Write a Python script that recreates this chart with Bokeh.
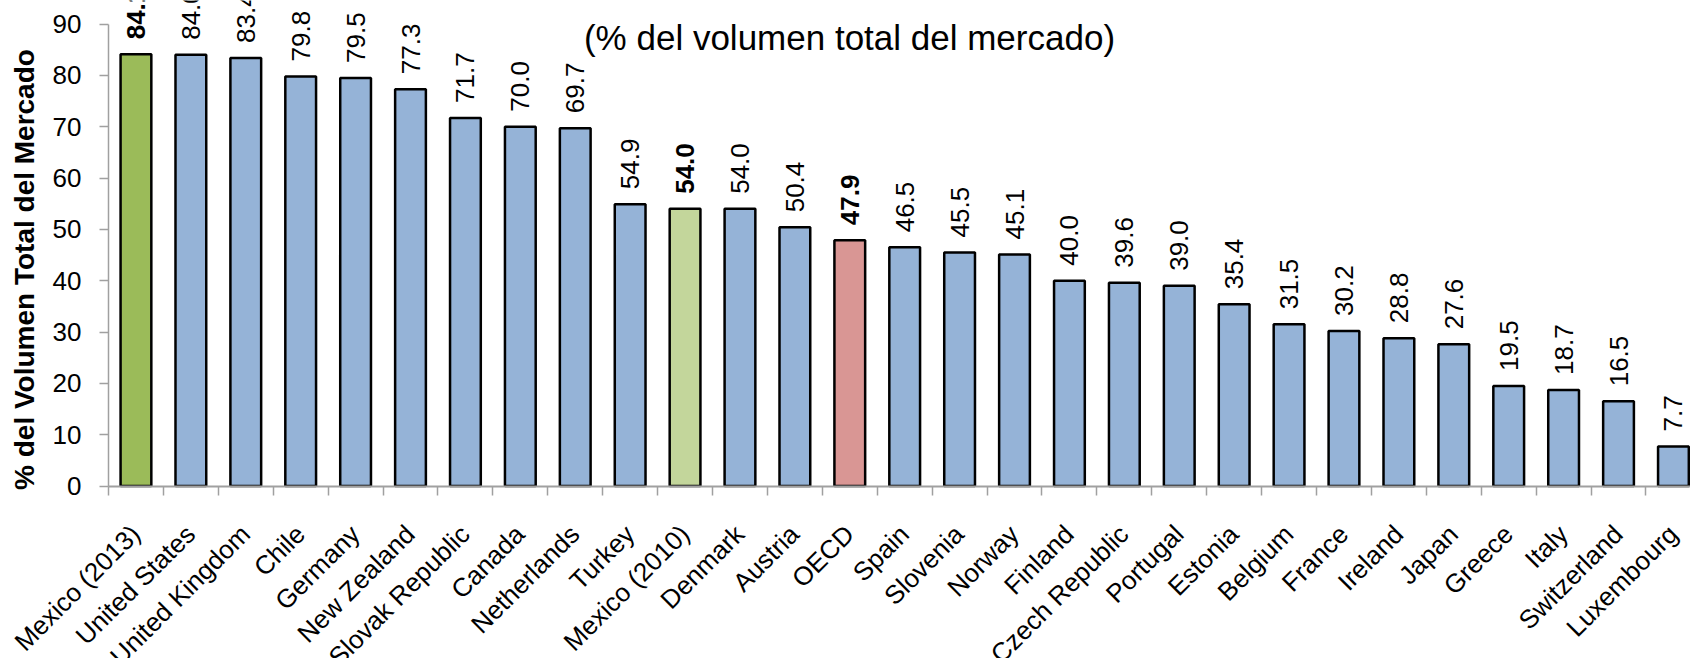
import math
from bokeh.plotting import figure
from bokeh.models import ColumnDataSource, Range1d, FixedTicker, Label
from bokeh.core.properties import value, field
from bokeh.transform import dodge
from bokeh.embed import file_html
from bokeh.resources import INLINE

# ---------------- data ----------------
categories = ["Mexico (2013)", "United States", "United Kingdom", "Chile", "Germany",
              "New Zealand", "Slovak Republic", "Canada", "Netherlands", "Turkey",
              "Mexico (2010)", "Denmark", "Austria", "OECD", "Spain", "Slovenia",
              "Norway", "Finland", "Czech Republic", "Portugal", "Estonia", "Belgium",
              "France", "Ireland", "Japan", "Greece", "Italy", "Switzerland", "Luxembourg"]
values = [84.1, 84.0, 83.4, 79.8, 79.5, 77.3, 71.7, 70.0, 69.7, 54.9,
          54.0, 54.0, 50.4, 47.9, 46.5, 45.5, 45.1, 40.0, 39.6, 39.0,
          35.4, 31.5, 30.2, 28.8, 27.6, 19.5, 18.7, 16.5, 7.7]
y_ticks = [0, 10, 20, 30, 40, 50, 60, 70, 80, 90]
subtitle = "(% del volumen total del mercado)"
y_axis_title = "% del Volumen Total del Mercado"

# ---------------- styling ----------------
FONT = "Liberation Sans"
BLUE = "#95B3D7"
highlight = {"Mexico (2013)": "#9BBB59", "Mexico (2010)": "#C3D69B", "OECD": "#D99694"}
GRAY = "#A0A0A0"

n = len(categories)
centers = [i + 0.5 for i in range(n)]
boundaries = list(range(n + 1))
colors = [highlight.get(c, BLUE) for c in categories]
styles = ["bold" if c in highlight else "normal" for c in categories]
labels = [f"{v:.1f}" for v in values]

src = ColumnDataSource(dict(x=centers, top=values, zero=[0] * n, name=categories,
                            color=colors, style=styles, label=labels))

# ---------------- layout (pixel geometry of the reference) ----------------
W, H = 1690, 658
AXIS_PX = 108         # pixel column of the value axis
ZERO_PX = 485.5       # pixel row of the value 0
px_per_cat = 54.91
px_per_unit = 5.133
x_start = -AXIS_PX / px_per_cat
x_end = (W - AXIS_PX) / px_per_cat
y_end = ZERO_PX / px_per_unit
y_start = -(H - ZERO_PX) / px_per_unit

p = figure(width=W, height=H, x_range=Range1d(x_start, x_end),
           y_range=Range1d(y_start, y_end),
           output_backend="svg", toolbar_location=None,
           min_border_left=0, min_border_right=0, min_border_top=0, min_border_bottom=0)
p.xgrid.visible = False
p.ygrid.visible = False
p.outline_line_color = None
p.background_fill_color = "white"

p.vbar(x="x", top="top", width=0.56, bottom=0, fill_color="color",
       line_color="black", line_width=2.5, source=src)

# value labels above the bars
p.text(x="x", y=dodge("top", 15 / px_per_unit, range=p.y_range), text="label",
       angle=math.pi / 2, text_align="left", text_baseline="middle",
       text_font=value(FONT), text_font_size="26px", text_font_style=field("style"),
       text_color="black", source=src)

# category labels, rotated 45 degrees, ending under each bar
p.text(x=dodge("x", -11 / px_per_cat, range=p.x_range),
       y=dodge("zero", -33 / px_per_unit, range=p.y_range), text="name",
       angle=math.pi / 4, text_align="right", text_baseline="top",
       text_font=value(FONT), text_font_size="26px", text_color="black", source=src)

# category axis at value 0: ticks between categories
xa = p.xaxis[0]
xa.fixed_location = 0
xa.bounds = (0, n)
xa.ticker = FixedTicker(ticks=[], minor_ticks=boundaries)
xa.major_tick_out = 0
xa.major_tick_in = 0
xa.minor_tick_out = 9
xa.minor_tick_in = 0
xa.minor_tick_line_color = GRAY
xa.minor_tick_line_width = 1.5
xa.axis_line_color = GRAY
xa.axis_line_width = 2
xa.major_label_text_font_size = "0px"

# value axis at category position 0
ya = p.yaxis[0]
ya.fixed_location = 0
ya.ticker = FixedTicker(ticks=y_ticks)
ya.bounds = (0, 90)
ya.axis_line_color = GRAY
ya.axis_line_width = 1.5
ya.major_tick_line_color = GRAY
ya.major_tick_line_width = 1.5
ya.major_tick_out = 9
ya.major_tick_in = 0
ya.minor_tick_out = 0
ya.minor_tick_in = 0
ya.major_label_text_font = FONT
ya.major_label_text_font_size = "26px"
ya.major_label_text_color = "black"
ya.major_label_standoff = 18

# y axis title
p.add_layout(Label(x=(24 - AXIS_PX) / px_per_cat, y=(ZERO_PX - 269) / px_per_unit,
                   text=y_axis_title, angle=math.pi / 2, text_align="center",
                   text_baseline="middle", text_font=FONT, text_font_size="28px",
                   text_font_style="bold", text_color="black"))

# subtitle (the bold title line above is cropped out of view in the reference)
p.add_layout(Label(x=(849 - AXIS_PX) / px_per_cat, y=(ZERO_PX - 37) / px_per_unit,
                   text=subtitle, text_align="center", text_baseline="middle",
                   text_font=FONT, text_font_size="35px", text_color="black"))

open("out.html", "w").write(file_html(p, INLINE))
